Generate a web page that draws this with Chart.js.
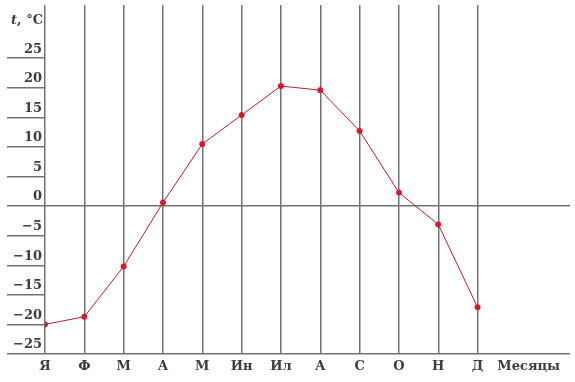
<!DOCTYPE html>
<html>
<head>
<meta charset="utf-8">
<script src="https://cdn.jsdelivr.net/npm/chart.js@4"></script>
<style>
  html, body { margin: 0; padding: 0; background: #fff; }
  #wrap { width: 575px; height: 382px; }
</style>
</head>
<body>
<div id="wrap"><canvas id="chart" width="575" height="382"></canvas></div>
<script>
// données
const months = ["Я", "Ф", "М", "А", "М", "Ин", "Ил", "А", "С", "О", "Н", "Д"];
const temps = [-20, -18.7, -10.2, 0.6, 10.5, 15.4, 20.3, 19.6, 12.7, 2.3, -3.1, -17.1];
const yTicks = [-25, -20, -15, -10, -5, 0, 5, 10, 15, 20, 25];
const unitLabel = "Месяцы";
const yTitle = ["t", ", °C"];

const gridCol = "#727272";
const textCol = "#3c3c3c";
const font = { family: "DejaVu Serif", size: 13, weight: "bold" };

// titre de l'axe Y + légende "Месяцы"
const extraText = {
  id: "extraText",
  afterDraw(chart) {
    const c = chart.ctx;
    const y = chart.scales.y;
    const x = chart.scales.x;
    c.save();
    c.fillStyle = textCol;
    c.textBaseline = "alphabetic";
    c.font = "bold 13px 'DejaVu Serif'";
    const restW = c.measureText(yTitle[1]).width;
    c.textAlign = "right";
    c.fillText(yTitle[1], y.right - 2, 24);
    c.font = "italic bold 13px 'DejaVu Serif'";
    c.fillText(yTitle[0], y.right - 2 - restW, 24);
    c.font = "bold 13px 'DejaVu Serif'";
    c.textAlign = "center";
    c.fillText(unitLabel, x.getPixelForValue(months.length + 0.3), 370);
    c.restore();
  }
};

new Chart(document.getElementById("chart"), {
  type: "line",
  data: {
    datasets: [{
      data: temps.map((v, i) => ({ x: i, y: v })),
      borderColor: "#b81c2e",
      borderWidth: 1,
      backgroundColor: "#d9182b",
      pointBackgroundColor: "#d9182b",
      pointBorderColor: "#d9182b",
      pointRadius: 2.6,
      tension: 0
    }]
  },
  options: {
    responsive: false,
    animation: false,
    layout: { padding: 0 },
    plugins: { legend: { display: false }, tooltip: { enabled: false } },
    scales: {
      x: {
        type: "linear",
        min: 0,
        max: 13.35,
        afterBuildTicks: s => { s.ticks = months.map((m, i) => ({ value: i })); },
        afterFit: s => { s.height = 28; },
        border: { display: false },
        grid: { color: gridCol, lineWidth: 1.5, drawTicks: false },
        ticks: {
          color: textCol,
          font: font,
          padding: 5,
          maxRotation: 0,
          autoSkip: false,
          callback: v => months[v]
        }
      },
      y: {
        min: -25,
        max: 34,
        afterBuildTicks: s => { s.ticks = yTicks.map(v => ({ value: v })); },
        afterFit: s => { s.width = 45; },
        border: { display: false },
        grid: {
          color: ctx => (ctx.tick && (ctx.tick.value === 0 || ctx.tick.value === -25)) ? gridCol : "rgba(0,0,0,0)",
          tickColor: gridCol,
          lineWidth: 1.5,
          tickLength: 38
        },
        ticks: {
          color: textCol,
          font: font,
          padding: -35,
          labelOffset: -9,
          callback: v => String(v).replace("-", "−")
        }
      }
    }
  },
  plugins: [extraText]
});
</script>
</body>
</html>
